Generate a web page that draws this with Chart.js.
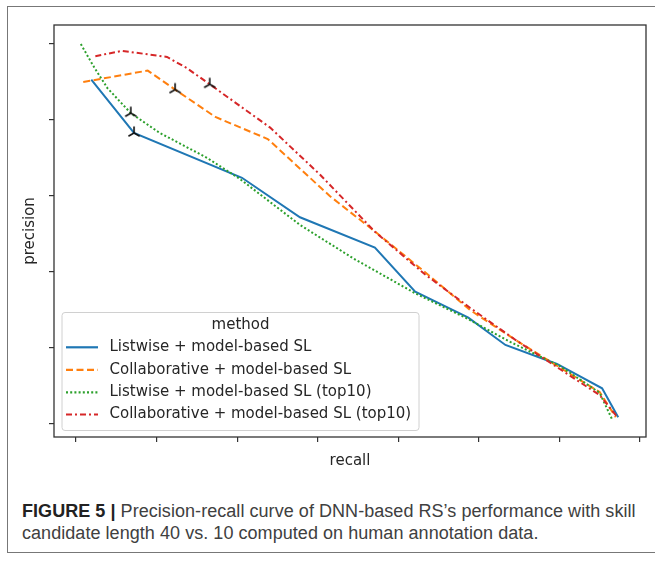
<!DOCTYPE html>
<html>
<head>
<meta charset="utf-8">
<script src="https://cdn.jsdelivr.net/npm/chart.js@4.4.1/dist/chart.umd.min.js"></script>
<style>
  body { margin: 0; background: #fff; width: 655px; height: 561px; overflow: hidden; position: relative; }
  #frame { position: absolute; left: 7px; top: 6px; width: 700px; height: 545px; border: 1.5px solid #777; }
  #wrap { position: absolute; left: 0; top: 0; width: 655px; height: 480px; }
  #caption { position: absolute; left: 22px; top: 501px; width: 660px; font-family: "Liberation Sans", Arial, sans-serif;
             font-size: 18px; letter-spacing: 0.05px; line-height: 21.8px; color: #404040; white-space: nowrap; }
  #caption b { color: #222; }
</style>
</head>
<body>
<div id="frame"></div>
<div id="wrap"><canvas id="prChart" width="655" height="480"></canvas></div>
<div id="caption"><b>FIGURE 5 |</b> Precision-recall curve of DNN-based RS’s performance with skill<br>candidate length 40 vs. 10 computed on human annotation data.</div>
<script>
// series labels
const seriesNames = [
    'Listwise + model-based SL',
    'Collaborative + model-based SL',
    'Listwise + model-based SL (top10)',
    'Collaborative + model-based SL (top10)'
];

// recall / precision (axes have no tick labels)
const listRecall = [0.019, 0.072, 0.206, 0.278, 0.371, 0.421, 0.487, 0.533, 0.597, 0.653, 0.673];
const listPrec   = [0.453, 0.383, 0.324, 0.272, 0.232, 0.174, 0.140, 0.104, 0.079, 0.047, 0.009];

const collabRecall = [0.009, 0.089, 0.123, 0.173, 0.238, 0.315, 0.369, 0.433, 0.489, 0.545, 0.601, 0.650, 0.670];
const collabPrec   = [0.450, 0.465, 0.440, 0.404, 0.375, 0.300, 0.255, 0.200, 0.150, 0.111, 0.074, 0.042, 0.009];

const listTopRecall = [0.006, 0.021, 0.039, 0.068, 0.104, 0.163, 0.204, 0.278, 0.344, 0.421, 0.487, 0.539, 0.601, 0.650, 0.665];
const listTopPrec   = [0.500, 0.472, 0.442, 0.409, 0.383, 0.350, 0.322, 0.262, 0.218, 0.172, 0.138, 0.108, 0.076, 0.041, 0.007];

const collabTopRecall = [0.024, 0.057, 0.113, 0.138, 0.166, 0.241, 0.303, 0.371, 0.433, 0.489, 0.545, 0.601, 0.650, 0.672];
const collabTopPrec   = [0.484, 0.491, 0.483, 0.468, 0.447, 0.390, 0.328, 0.253, 0.197, 0.153, 0.111, 0.072, 0.038, 0.009];

// black tri markers, one per curve
const markerRecall = [0.072, 0.123, 0.068, 0.166];
const markerPrec   = [0.383, 0.440, 0.409, 0.447];

const xTicks = [0, 0.1, 0.2, 0.3, 0.4, 0.5, 0.6, 0.7];
const yTicks = [0, 0.1, 0.2, 0.3, 0.4, 0.5];

function toPoints(xs, ys) {
    return xs.map((x, i) => ({ x: x, y: ys[i] }));
}

// tri_up marker like matplotlib's '2'
function triMarker() {
    const c = document.createElement('canvas');
    c.width = 16; c.height = 16;
    const g = c.getContext('2d');
    g.strokeStyle = '#111';
    g.lineWidth = 1.6;
    g.beginPath();
    g.moveTo(8, 8); g.lineTo(8, 1.5);
    g.moveTo(8, 8); g.lineTo(2.4, 11.2);
    g.moveTo(8, 8); g.lineTo(13.6, 11.2);
    g.stroke();
    return c;
}

const frameAndLegend = {
    id: 'frameAndLegend',
    afterDatasetsDraw(chart) {
        const ctx = chart.ctx;
        const a = chart.chartArea;
        ctx.save();
        ctx.strokeStyle = '#333';
        ctx.lineWidth = 1.3;
        ctx.strokeRect(a.left, a.top, a.right - a.left, a.bottom - a.top);

        // legend box
        const bx = 62, by = 312.5, bw = 357, bh = 118;
        ctx.beginPath();
        ctx.roundRect(bx, by, bw, bh, 3);
        ctx.fillStyle = 'rgba(255,255,255,0.85)';
        ctx.fill();
        ctx.strokeStyle = '#d0d0d0';
        ctx.lineWidth = 1;
        ctx.stroke();

        ctx.fillStyle = '#262626';
        ctx.font = '15px "DejaVu Sans"';
        ctx.textBaseline = 'middle';
        ctx.textAlign = 'center';
        ctx.fillText('method', bx + bw / 2, 325.5);
        ctx.textAlign = 'left';
        const rows = [347.3, 369.8, 392.3, 414.5];
        seriesNames.forEach((name, i) => {
            const ds = chart.data.datasets[i];
            ctx.beginPath();
            ctx.setLineDash(ds.borderDash || []);
            ctx.strokeStyle = ds.borderColor;
            ctx.lineWidth = 2.2;
            ctx.moveTo(66, rows[i]);
            ctx.lineTo(98, rows[i]);
            ctx.stroke();
            ctx.setLineDash([]);
            ctx.fillText(name, 109.5, rows[i]);
        });
        ctx.restore();
    }
};

const ctx = document.getElementById('prChart').getContext('2d');
new Chart(ctx, {
    type: 'scatter',
    data: {
        datasets: [
            { label: seriesNames[0], data: toPoints(listRecall, listPrec), showLine: true,
              borderColor: '#1f77b4', borderWidth: 2, pointRadius: 0, order: 4 },
            { label: seriesNames[1], data: toPoints(collabRecall, collabPrec), showLine: true,
              borderColor: '#ff7f0e', borderWidth: 2, borderDash: [7, 3.5], pointRadius: 0, order: 3 },
            { label: seriesNames[2], data: toPoints(listTopRecall, listTopPrec), showLine: true,
              borderColor: '#2ca02c', borderWidth: 2, borderDash: [2, 2.2], pointRadius: 0, order: 2 },
            { label: seriesNames[3], data: toPoints(collabTopRecall, collabTopPrec), showLine: true,
              borderColor: '#d62728', borderWidth: 2, borderDash: [6, 3, 2, 3], pointRadius: 0, order: 1 },
            { label: 'marker', data: toPoints(markerRecall, markerPrec), showLine: false,
              pointStyle: triMarker(), pointRadius: 7, order: 0 }
        ]
    },
    options: {
        responsive: false,
        animation: false,
        layout: { padding: { left: 8, right: 9, top: 25, bottom: 6 } },
        plugins: { legend: { display: false }, tooltip: { enabled: false } },
        scales: {
            x: {
                type: 'linear',
                min: -0.0273, max: 0.7075,
                afterBuildTicks: s => { s.ticks = xTicks.map(v => ({ value: v })); },
                ticks: { display: false },
                grid: { drawOnChartArea: false, drawTicks: true, tickLength: 5, color: '#333', lineWidth: 1.2 },
                border: { display: false },
                title: { display: true, text: 'recall', color: '#262626',
                         font: { family: 'DejaVu Sans', size: 15 }, padding: { top: 10, bottom: 4 } }
            },
            y: {
                type: 'linear',
                min: -0.0171, max: 0.525,
                afterBuildTicks: s => { s.ticks = yTicks.map(v => ({ value: v })); },
                ticks: { display: false },
                grid: { drawOnChartArea: false, drawTicks: true, tickLength: 5, color: '#333', lineWidth: 1.2 },
                border: { display: false },
                title: { display: true, text: 'precision', color: '#262626',
                         font: { family: 'DejaVu Sans', size: 15 }, padding: { top: 13, bottom: 10 } }
            }
        }
    },
    plugins: [frameAndLegend]
});
</script>
</body>
</html>
